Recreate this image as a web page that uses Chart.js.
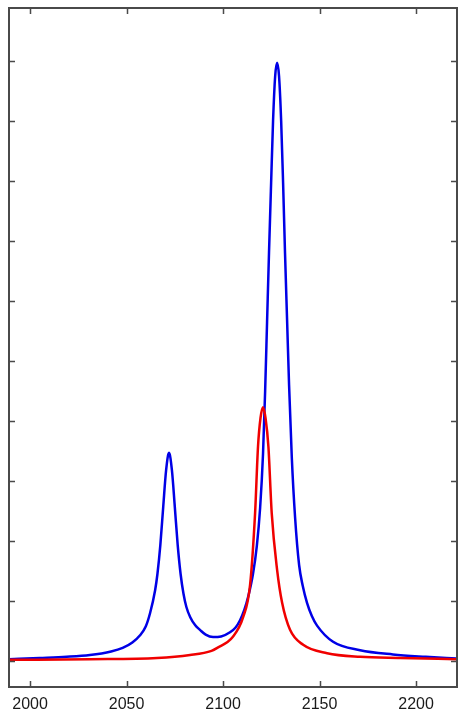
<!DOCTYPE html>
<html>
<head>
<meta charset="utf-8">
<script src="https://cdn.jsdelivr.net/npm/chart.js@4/dist/chart.umd.min.js"></script>
<style>
  html, body { margin: 0; padding: 0; background: #fff; }
  #wrap { width: 458px; height: 710px; }
</style>
</head>
<body>
<div id="wrap"><canvas id="spectrum" width="458" height="710"></canvas></div>
<script>
// wavenumber positions and intensities, blue trace
var blueX = [1989, 2005, 2019, 2031, 2042, 2048, 2053, 2057, 2060, 2062.2, 2064.8, 2066, 2067.5, 2069,
    2070.5, 2072, 2073.5, 2075, 2076.5, 2078, 2079.5, 2081, 2083, 2085.5, 2088, 2091, 2094.8, 2099,
    2103.6, 2106.5, 2108.8, 2111, 2113, 2115.5, 2117.5, 2119.2, 2120.7, 2121.8, 2122.8, 2123.8, 2124.9,
    2125.9, 2127, 2128, 2129, 2130.1, 2131.1, 2132.1, 2133.2, 2134.2, 2135.6, 2137.3, 2139.4, 2141.3,
    2143.5, 2146, 2148.7, 2157, 2171, 2188, 2205, 2221];
var blueY = [0.03, 0.05, 0.07, 0.10, 0.16, 0.22, 0.31, 0.43, 0.58, 0.80, 1.18, 1.45, 1.93, 2.57,
    3.18, 3.47, 3.18, 2.57, 1.93, 1.45, 1.12, 0.90, 0.73, 0.60, 0.52, 0.44, 0.40, 0.41,
    0.48, 0.56, 0.68, 0.85, 1.07, 1.45, 1.92, 2.55, 3.45, 4.50, 5.65, 6.80, 7.97,
    9.00, 9.75, 9.97, 9.75, 9.00, 7.97, 6.80, 5.65, 4.60, 3.40, 2.40, 1.60, 1.25,
    0.97, 0.75, 0.59, 0.32, 0.18, 0.11, 0.07, 0.04];

// red trace
var redX = [1989, 2031, 2065.8, 2082.9, 2094, 2097, 2105, 2110.4, 2114, 2116.6, 2118.1, 2119.4, 2120.7,
    2122, 2123.5, 2125.2, 2128, 2130.6, 2134.7, 2141.5, 2153.9, 2171, 2191.7, 2221];
var redY = [0.02, 0.03, 0.05, 0.10, 0.17, 0.22, 0.40, 0.73, 1.27, 2.47, 3.57, 4.05, 4.23,
    4.05, 3.57, 2.47, 1.52, 0.97, 0.52, 0.27, 0.13, 0.07, 0.05, 0.03];

var xRange = [1989.1, 2221.2];
var yRange = [-0.433, 10.883];

function toPoints(xs, ys) {
    return xs.map(function (x, i) { return { x: x, y: ys[i] }; });
}

// box round the plot with short inward ticks on every side
var axesBox = {
    id: 'axesBox',
    afterDatasetsDraw: function (chart) {
        var ctx = chart.ctx;
        var a = chart.chartArea;
        var xs = chart.scales.x, ys = chart.scales.y;
        var len = 6;
        ctx.save();
        ctx.strokeStyle = '#4a4a4a';
        ctx.lineWidth = 2;
        ctx.strokeRect(a.left, a.top, a.right - a.left, a.bottom - a.top);
        ctx.lineWidth = 1.5;
        ctx.beginPath();
        xs.ticks.forEach(function (t) {
            var px = Math.round(xs.getPixelForValue(t.value)) + 0.5;
            ctx.moveTo(px, a.bottom); ctx.lineTo(px, a.bottom - len);
            ctx.moveTo(px, a.top); ctx.lineTo(px, a.top + len);
        });
        ys.ticks.forEach(function (t) {
            var py = Math.round(ys.getPixelForValue(t.value)) + 0.5;
            ctx.moveTo(a.left, py); ctx.lineTo(a.left + len, py);
            ctx.moveTo(a.right, py); ctx.lineTo(a.right - len, py);
        });
        ctx.stroke();
        ctx.restore();
    }
};

new Chart(document.getElementById('spectrum'), {
    type: 'line',
    data: {
        datasets: [
            {
                data: toPoints(redX, redY),
                borderColor: '#f00000',
                borderWidth: 2.5,
                pointRadius: 0,
                cubicInterpolationMode: 'monotone'
            },
            {
                data: toPoints(blueX, blueY),
                borderColor: '#0000e6',
                borderWidth: 2.5,
                pointRadius: 0,
                cubicInterpolationMode: 'monotone'
            }
        ]
    },
    options: {
        responsive: false,
        animation: false,
        layout: { padding: { top: 8, right: 1, left: 0, bottom: 0 } },
        plugins: { legend: { display: false }, tooltip: { enabled: false } },
        scales: {
            x: {
                type: 'linear',
                min: xRange[0],
                max: xRange[1],
                grid: { display: false, drawTicks: false },
                border: { display: false },
                ticks: {
                    stepSize: 50,
                    includeBounds: false,
                    maxRotation: 0,
                    padding: 8,
                    color: '#1a1a1a',
                    font: { family: '"Liberation Sans", Arial, sans-serif', size: 16 },
                    callback: function (v) { return String(v); }
                },
                afterFit: function (s) { s.height = 23; }
            },
            y: {
                min: yRange[0],
                max: yRange[1],
                grid: { display: false, drawTicks: false },
                border: { display: false },
                ticks: { display: false, stepSize: 1, includeBounds: false },
                afterFit: function (s) { s.width = 9; }
            }
        }
    },
    plugins: [axesBox]
});
</script>
</body>
</html>
